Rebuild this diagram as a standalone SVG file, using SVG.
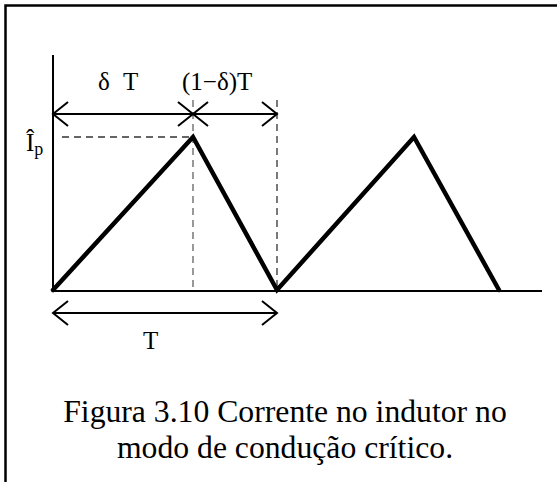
<svg xmlns="http://www.w3.org/2000/svg" width="557" height="482" viewBox="0 0 557 482">
<style>
.frame{fill:none;stroke:#000;stroke-width:2.5}
.axis{fill:none;stroke:#000;stroke-width:2}
.wave{fill:none;stroke:#000;stroke-width:4.5;stroke-linejoin:miter;stroke-linecap:round}
.dim{fill:none;stroke:#000;stroke-width:2}
.dash{fill:none;stroke:#333;stroke-width:1.3;stroke-dasharray:7 5}
.dashg{fill:none;stroke:#777;stroke-width:1.5;stroke-dasharray:7 5}
.lbl{font-family:"Liberation Serif","Times New Roman",serif;font-size:25px;fill:#000}
.cap{font-family:"Liberation Serif","Times New Roman",serif;font-size:31.7px;fill:#000;text-anchor:middle}
</style>
<rect width="557" height="482" fill="#fff"/>
<path class="frame" d="M5.5 482 V5.5 H557"/>
<g id="axes">
<line class="axis" x1="53" y1="55" x2="53" y2="292"/>
<line class="axis" x1="52" y1="291" x2="542" y2="291"/>
</g>
<g id="guides">
<line class="dash" x1="62" y1="137" x2="192" y2="137"/>
<line class="dashg" x1="193" y1="100" x2="193" y2="290"/>
<line class="dash" x1="277" y1="100" x2="277" y2="290"/>
</g>
<g id="waveform">
<polyline class="wave" points="53,290 193,137 277,290 414,137 499,290"/>
</g>
<g id="connectors">
<line class="dim" x1="53" y1="114" x2="277" y2="114"/>
<polyline class="dim" points="68,102 53,114 68,126"/>
<polyline class="dim" points="178,102 193,114 178,126"/>
<polyline class="dim" points="208,102 193,114 208,126"/>
<polyline class="dim" points="262,102 277,114 262,126"/>
<line class="dim" x1="53" y1="313" x2="277" y2="313"/>
<polyline class="dim" points="68,301 53,313 68,325"/>
<polyline class="dim" points="262,301 277,313 262,325"/>
</g>
<g id="labels">
<text class="lbl" x="98" y="90">δ</text>
<text class="lbl" x="123" y="90">T</text>
<text class="lbl" x="182" y="90">(1−δ)T</text>
<text class="lbl" x="26" y="151">Î<tspan font-size="18" dy="4">p</tspan></text>
<text class="lbl" x="143" y="349">T</text>
</g>
<g id="caption">
<text class="cap" x="285" y="422">Figura 3.10 Corrente no indutor no</text>
<text class="cap" x="285" y="458">modo de condução crítico.</text>
</g>
</svg>
